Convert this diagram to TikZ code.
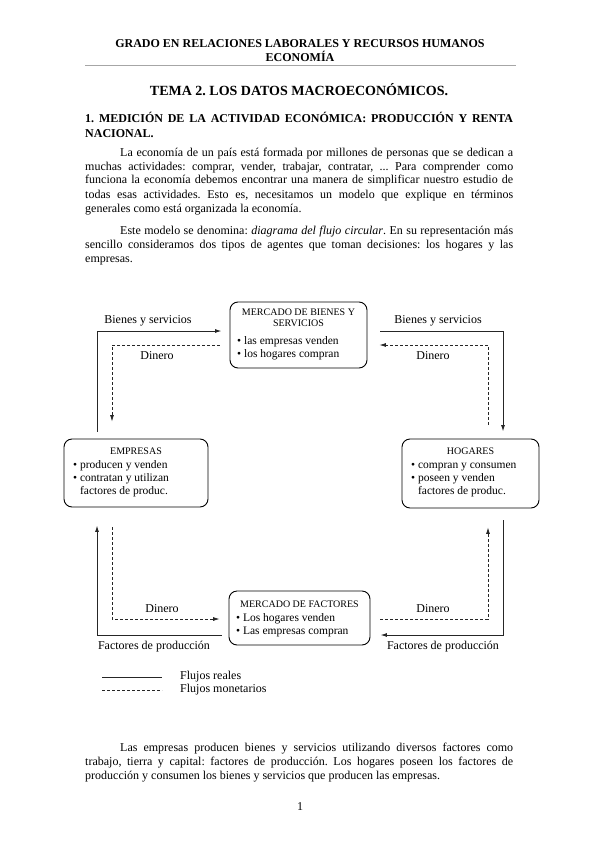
\documentclass[tikz,border=0pt]{standalone}
\usepackage{fontspec}
\setmainfont{Liberation Serif}
\usetikzlibrary{arrows.meta,calc,positioning}
\frenchspacing

\tikzset{
  body/.style={font=\fontsize{12}{14}\selectfont, inner sep=0pt},
  para/.style={body, text width=428pt, align=justify, anchor=base west},
  market/.style={draw=black, line width=0.9pt, rounded corners=8pt, inner sep=0pt},
  boxtitle/.style={font=\fontsize{10}{11.5}\selectfont, inner sep=0pt, align=center},
  bullets/.style={font=\fontsize{11.5}{13}\selectfont, inner sep=0pt, align=left, anchor=north west},
  real/.style={draw=black!85, line width=1pt},
  money/.style={draw=black!85, line width=0.8pt, dash pattern=on 3pt off 2pt},
  tip/.style={-{Latex[length=6.5pt,width=4pt]}}
}
\newcommand{\bul}{\textbullet\ }

\begin{document}
\begin{tikzpicture}[x=1pt,y=-1pt]
  \useasboundingbox[fill=white] (0,0) rectangle (599,848);

  % Header
  \node[body, font=\fontsize{12}{14}\selectfont\bfseries, anchor=base] (grado) at (300,48)
    {GRADO EN RELACIONES LABORALES Y RECURSOS HUMANOS};
  \node[body, font=\fontsize{12}{14}\selectfont\bfseries, anchor=base] (econ) at (300,62) {ECONOMÍA};
  \draw[black!35, line width=1.6pt] (85,65.5) -- (515.5,65.5);

  \node[body, font=\fontsize{14}{16}\selectfont\bfseries, anchor=base] (tema) at (299,96)
    {TEMA 2. LOS DATOS MACROECONÓMICOS.};
  \node[para, font=\fontsize{12}{14}\selectfont\bfseries] (secc) at (85,123)
    {1. MEDICIÓN DE LA ACTIVIDAD ECONÓMICA: PRODUCCIÓN Y RENTA\linebreak NACIONAL.};

  % Text paragraphs
  \node[para] (par1) at (85,156)
    {\noindent\hspace*{35pt}La economía de un país está formada por millones de personas que se dedican a\linebreak
     muchas actividades: comprar, vender, trabajar, contratar, ... Para comprender como\linebreak
     funciona la economía debemos encontrar una manera de simplificar nuestro estudio de\linebreak
     todas esas actividades. Esto es, necesitamos un modelo que explique en términos\linebreak
     generales como está organizada la economía.};
  \node[para] (par2) at (85,234)
    {\noindent\hspace*{35pt}Este modelo se denomina: \textit{diagrama del flujo circular}. En su representación más\linebreak
     sencillo consideramos dos tipos de agentes que toman decisiones: los hogares y las\linebreak
     empresas.};

  % Markets and agents
  \node[market, minimum width=137pt, minimum height=66pt] (mb) at (298.5,335) {};
  \node[boxtitle] (mbt) at ($(mb.center)+(0,-17)$) {MERCADO DE BIENES Y\\SERVICIOS};
  \node[bullets] (mbl) at ($(mb.center)+(-61.5,0.5)$) {\strut\bul las empresas venden\\\bul los hogares compran};

  \node[market, minimum width=144pt, minimum height=68pt] (emp) at (136,473) {};
  \node[boxtitle] (empt) at ($(emp.center)+(0,-22)$) {EMPRESAS};
  \node[bullets] (empl) at ($(emp.center)+(-63,-14)$)
    {\strut\bul producen y venden\\\bul contratan y utilizan\\\phantom{\bul}factores de produc.};

  \node[market, minimum width=137pt, minimum height=69pt] (hog) at (470.5,473.5) {};
  \node[boxtitle] (hogt) at ($(hog.center)+(0,-22.5)$) {HOGARES};
  \node[bullets] (hogl) at ($(hog.center)+(-59.5,-14.5)$)
    {\strut\bul compran y consumen\\\bul poseen y venden\\\phantom{\bul}factores de produc.};

  \node[market, minimum width=141pt, minimum height=54pt] (mf) at (299.5,618) {};
  \node[boxtitle] (mft) at ($(mf.center)+(0,-14)$) {MERCADO DE FACTORES};
  \node[bullets] (mfl) at ($(mf.center)+(-63.5,-5.5)$) {\strut\bul Los hogares venden\\\bul Las empresas compran};

  % Real flows
  \draw[real, tip] ($(emp.north)+(-39,-7)$) |- ($(mb.west)+(-8,-4)$);
  \draw[real, tip] ($(mb.east)+(13,-4)$) -| ($(hog.north)+(32.5,-7)$);
  \draw[real, tip] ($(hog.south)+(32.5,12)$) |- ($(mf.east)+(10,17)$);
  \draw[real, tip] ($(mf.west)+(-7,17)$) -| ($(emp.south)+(-39,18)$);

  % Money flows
  \draw[money, tip] ($(hog.north)+(17.5,-14)$) |- ($(mb.east)+(12,10)$);
  \draw[money, tip] ($(mb.west)+(-10,10)$) -| ($(emp.north)+(-24,-17)$);
  \draw[money, tip] ($(emp.south)+(-24,20)$) |- ($(mf.west)+(-9,1)$);
  \draw[money, tip] ($(mf.east)+(10,1)$) -| ($(hog.south)+(17.5,19)$);

  % Flow labels
  \node[body] (bsL) at (148,321) {Bienes y servicios};
  \node[body] (bsR) at (438,321) {Bienes y servicios};
  \node[body] (dnTL) at (157,356) {Dinero};
  \node[body] (dnTR) at (433,356) {Dinero};
  \node[body] (dnBL) at (162,609) {Dinero};
  \node[body] (dnBR) at (433,609) {Dinero};
  \node[body] (fpL) at (154,647) {Factores de producción};
  \node[body] (fpR) at (443,647) {Factores de producción};

  % Legend
  \coordinate (legA) at (102,677);
  \coordinate (legB) at (162,677);
  \coordinate (legC) at (102,690);
  \coordinate (legD) at (162,690);
  \draw[real] (legA) -- (legB);
  \draw[money, line width=0.7pt] (legC) -- (legD);
  \node[body, anchor=west] (legR) at (180,677) {Flujos reales};
  \node[body, anchor=west] (legM) at (180,690) {Flujos monetarios};

  % Closing paragraph and page number
  \node[para] (par3) at (85,751)
    {\noindent\hspace*{35pt}Las empresas producen bienes y servicios utilizando diversos factores como\linebreak
     trabajo, tierra y capital: factores de producción. Los hogares poseen los factores de\linebreak
     producción y consumen los bienes y servicios que producen las empresas.};
  \node[body, anchor=base] (pag) at (300,810) {1};
\end{tikzpicture}
\end{document}
